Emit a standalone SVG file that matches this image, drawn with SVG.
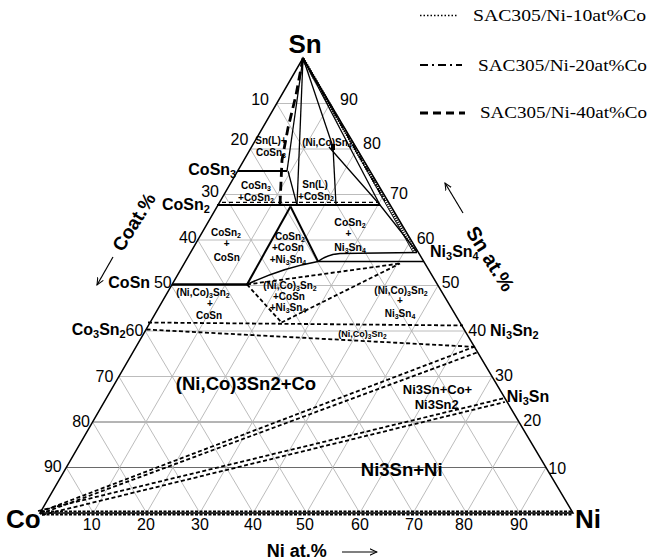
<svg xmlns="http://www.w3.org/2000/svg" width="649" height="560" viewBox="0 0 649 560">
<defs>
<marker id="arr" viewBox="0 0 10 10" refX="9" refY="5" markerWidth="8" markerHeight="8" orient="auto" markerUnits="userSpaceOnUse">
<path d="M0,1 L9,5 L0,9" fill="none" stroke="#000" stroke-width="1.3"/>
</marker>
<style>
.g{stroke:#b4b4b4;stroke-width:0.9;fill:none}
.gd{stroke:#6a6a6a;stroke-width:1}
.e{stroke:#000;stroke-width:1.5;fill:none}
.p{stroke:#000;stroke-width:1.3;fill:none}
.pt{stroke:#000;stroke-width:2.2;fill:none}
.t{stroke:#000;stroke-width:1.8;stroke-dasharray:4 2.5;fill:none}
text{font-family:"Liberation Sans",Arial,sans-serif;fill:#000}
.num{font-size:16px}
.cmp{font-size:16px;font-weight:bold}
.rg{font-size:10px;font-weight:bold;text-anchor:middle}
.big{font-size:18.5px;font-weight:bold;text-anchor:middle}
.lg{font-family:"Liberation Serif","Times New Roman",serif;font-size:16px}
</style>
</defs>
<rect width="649" height="560" fill="#fff"/>

<g id="grid">
<line class="g gd" x1="66.3" y1="467.5" x2="546" y2="467.5"/>
<line class="g gd" x1="92.6" y1="422" x2="519" y2="422"/>
<line class="g" x1="118.9" y1="376.5" x2="492" y2="376.5"/>
<line class="g" x1="145.2" y1="331" x2="465" y2="331"/>
<line class="g" x1="171.5" y1="285.5" x2="438" y2="285.5"/>
<line class="g" x1="197.8" y1="240" x2="411" y2="240"/>
<line class="g" x1="224.1" y1="194.5" x2="384" y2="194.5"/>
<line class="g" x1="250.4" y1="149" x2="357" y2="149"/>
<line class="g" x1="276.7" y1="103.5" x2="330" y2="103.5"/>
<line class="g" x1="93.3" y1="513" x2="330" y2="103.5"/>
<line class="g" x1="146.6" y1="513" x2="357" y2="149"/>
<line class="g" x1="199.9" y1="513" x2="384" y2="194.5"/>
<line class="g" x1="253.2" y1="513" x2="411" y2="240"/>
<line class="g" x1="306.5" y1="513" x2="438" y2="285.5"/>
<line class="g" x1="359.8" y1="513" x2="465" y2="331"/>
<line class="g" x1="413.1" y1="513" x2="492" y2="376.5"/>
<line class="g" x1="466.4" y1="513" x2="519" y2="422"/>
<line class="g" x1="519.7" y1="513" x2="546" y2="467.5"/>
<line class="g" x1="519.7" y1="513" x2="276.7" y2="103.5"/>
<line class="g" x1="466.4" y1="513" x2="250.4" y2="149"/>
<line class="g" x1="413.1" y1="513" x2="224.1" y2="194.5"/>
<line class="g" x1="359.8" y1="513" x2="197.8" y2="240"/>
<line class="g" x1="306.5" y1="513" x2="171.5" y2="285.5"/>
<line class="g" x1="253.2" y1="513" x2="145.2" y2="331"/>
<line class="g" x1="199.9" y1="513" x2="118.9" y2="376.5"/>
<line class="g" x1="146.6" y1="513" x2="92.6" y2="422"/>
<line class="g" x1="93.3" y1="513" x2="66.3" y2="467.5"/>
</g>

<g id="connectors">
<path class="e" d="M40,513 L303,58 L573,513 Z"/>
<line class="t" x1="42" y1="511.3" x2="572" y2="511.3" style="stroke-dasharray:3 1.5"/>
<line class="t" x1="42" y1="514.5" x2="572" y2="514.5" style="stroke-dasharray:3 1.5"/>
<line class="p" x1="303" y1="58" x2="413" y2="252" style="stroke-width:0.9"/>
<line x1="303" y1="59" x2="415.5" y2="252" stroke="#000" stroke-width="3.5" stroke-dasharray="1 1.3"/>
<line class="pt" x1="238" y1="171" x2="287" y2="171"/>
<line class="pt" x1="217" y1="205" x2="380" y2="205"/>
<line class="pt" x1="172" y1="284.5" x2="247" y2="284.5" style="stroke-width:2.6"/>
<line class="p" x1="303" y1="58" x2="287" y2="171"/>
<line class="p" x1="288" y1="171" x2="297" y2="205"/>
<line class="p" x1="303" y1="58" x2="297" y2="205"/>
<line class="p" x1="303" y1="58" x2="333" y2="147"/>
<line class="p" x1="333" y1="147" x2="336" y2="205"/>
<polyline class="p" points="329,147 380,205 417,252"/>
<line class="p" x1="303" y1="58" x2="380" y2="205"/>
<rect x="331" y="144" width="4" height="6" fill="#000"/>
<line class="pt" x1="247" y1="284.5" x2="290.5" y2="206.5" style="stroke-width:2"/>
<line class="pt" x1="290.5" y1="206.5" x2="318" y2="261.5" style="stroke-width:2"/>
<path class="p" d="M318,261.5 Q327,254.5 340,253.5 L417,252.5" style="stroke-width:1.5"/>
<line class="p" x1="318" y1="261.5" x2="424" y2="261.5" style="stroke-width:1.5"/>
<path class="p" d="M247,284.5 Q282,268 318,261.5" style="stroke-width:1.5"/>
<line class="t" x1="222" y1="202.3" x2="378" y2="202.3" style="stroke-width:1.2;stroke-dasharray:4 3"/>
<line x1="303" y1="58" x2="385" y2="201" stroke="#000" stroke-width="1.5" stroke-dasharray="6 2.5 1.5 2.5"/>
<polyline points="303,58 296,95 288,128 282,160 280,205" fill="none" stroke="#000" stroke-width="2.8" stroke-dasharray="9 5"/>
<line class="t" x1="247" y1="284.5" x2="400" y2="263.5"/>
<line class="t" x1="247" y1="284.5" x2="281.5" y2="322.5"/>
<line class="t" x1="281.5" y1="322.5" x2="400" y2="263.5"/>
<line class="t" x1="148" y1="322.5" x2="463" y2="325.5"/>
<line class="t" x1="146.5" y1="329.5" x2="477" y2="347"/>
<line class="t" x1="40" y1="512" x2="475" y2="346.5"/>
<line class="t" x1="40" y1="514" x2="477" y2="352.5"/>
<line class="t" x1="38" y1="511" x2="505" y2="398"/>
<line class="t" x1="42" y1="515" x2="505" y2="402"/>
<line x1="342" y1="552" x2="377" y2="552" stroke="#000" stroke-width="1.2" marker-end="url(#arr)"/>
<line x1="113" y1="257" x2="97" y2="285" stroke="#000" stroke-width="1.2" marker-end="url(#arr)"/>
<line x1="463" y1="213" x2="445" y2="183" stroke="#000" stroke-width="1.2" marker-end="url(#arr)"/>
</g>

<g id="vertices">
<text x="305" y="53" text-anchor="middle" style="font-size:26px;font-weight:bold">Sn</text>
<text x="6" y="528" style="font-size:26px;font-weight:bold">Co</text>
<text x="575" y="528" style="font-size:26px;font-weight:bold">Ni</text>
</g>

<g id="left-scale">
<text class="num" x="269" y="105" text-anchor="end">10</text>
<text class="num" x="248.3" y="145" text-anchor="end">20</text>
<text class="num" x="219" y="196.5" text-anchor="end">30</text>
<text class="num" x="196.7" y="243" text-anchor="end">40</text>
<text class="num" x="171.7" y="288" text-anchor="end">50</text>
<text class="num" x="143.3" y="336" text-anchor="end">60</text>
<text class="num" x="113.3" y="382" text-anchor="end">70</text>
<text class="num" x="90" y="427" text-anchor="end">80</text>
<text class="num" x="61.7" y="472" text-anchor="end">90</text>
</g>
<g id="right-scale">
<text class="num" x="340" y="105">90</text>
<text class="num" x="363" y="149">80</text>
<text class="num" x="390" y="199">70</text>
<text class="num" x="416.7" y="244">60</text>
<text class="num" x="441.7" y="288">50</text>
<text class="num" x="468.3" y="336">40</text>
<text class="num" x="495" y="381">30</text>
<text class="num" x="523.3" y="426">20</text>
<text class="num" x="548.3" y="474">10</text>
</g>
<g id="bottom-scale">
<text class="num" x="91.7" y="530" text-anchor="middle">10</text>
<text class="num" x="146" y="530" text-anchor="middle">20</text>
<text class="num" x="200" y="530" text-anchor="middle">30</text>
<text class="num" x="253" y="530" text-anchor="middle">40</text>
<text class="num" x="305" y="530" text-anchor="middle">50</text>
<text class="num" x="360" y="530" text-anchor="middle">60</text>
<text class="num" x="414" y="530" text-anchor="middle">70</text>
<text class="num" x="464" y="530" text-anchor="middle">80</text>
<text class="num" x="519" y="530" text-anchor="middle">90</text>
</g>

<g id="axis-titles">
<text x="266.7" y="557" style="font-size:18px;font-weight:bold">Ni at.%</text>
<text transform="translate(134,222) rotate(-58)" x="0" y="6.5" text-anchor="middle" style="font-size:19px;font-weight:bold">Coat.%</text>
<text transform="translate(490,259) rotate(58)" x="0" y="6.5" text-anchor="middle" style="font-size:20px;font-weight:bold">Sn at.%</text>
</g>

<g id="compounds">
<text class="cmp" x="188.3" y="175">CoSn<tspan font-size="11" dy="3">3</tspan></text>
<text class="cmp" x="162" y="210">CoSn<tspan font-size="11" dy="2.5">2</tspan></text>
<text class="cmp" x="108.3" y="288">CoSn</text>
<text class="cmp" x="71.7" y="335">Co<tspan font-size="11" dy="3">3</tspan><tspan dy="-3">Sn</tspan><tspan font-size="11" dy="3">2</tspan></text>
<text class="cmp" x="430" y="257">Ni<tspan font-size="11" dy="3">3</tspan><tspan dy="-3">Sn</tspan><tspan font-size="11" dy="3">4</tspan></text>
<text class="cmp" x="490" y="336">Ni<tspan font-size="11" dy="3">3</tspan><tspan dy="-3">Sn</tspan><tspan font-size="11" dy="3">2</tspan></text>
<text class="cmp" x="506.7" y="402">Ni<tspan font-size="11" dy="3">3</tspan><tspan dy="-3">Sn</tspan></text>
</g>

<g id="regions">
<g id="r-snl-cosn3"><text class="rg" x="271" y="144">Sn(L)+</text><text class="rg" x="271" y="156">CoSn<tspan font-size="7" dy="2">3</tspan></text></g>
<g id="r-nicosn4"><text class="rg" x="327" y="146">(Ni,Co)Sn<tspan font-size="7" dy="2">4</tspan></text></g>
<g id="r-cosn3-cosn2"><text class="rg" x="256" y="189">CoSn<tspan font-size="7" dy="1.5">3</tspan></text><text class="rg" x="256" y="201">+CoSn<tspan font-size="7" dy="1.5">2</tspan></text></g>
<g id="r-snl-cosn2"><text class="rg" x="315" y="188">Sn(L)</text><text class="rg" x="316" y="199.5">+CoSn<tspan font-size="7" dy="1.5">2</tspan></text></g>
<g id="r-cosn2-cosn"><text class="rg" x="226" y="236">CoSn<tspan font-size="7" dy="2">2</tspan></text><text class="rg" x="226.7" y="247">+</text><text class="rg" x="226.7" y="261">CoSn</text></g>
<g id="r-cosn2-cosn-ni3sn4"><text class="rg" x="290" y="240">CoSn<tspan font-size="7" dy="2">2</tspan></text><text class="rg" x="288" y="251">+CoSn</text><text class="rg" x="288" y="263">+Ni<tspan font-size="7" dy="2">3</tspan><tspan dy="-2">Sn</tspan><tspan font-size="7" dy="2">4</tspan></text></g>
<g id="r-cosn2-ni3sn4"><text class="rg" x="350" y="226" style="font-size:10.5px">CoSn<tspan font-size="7" dy="2">2</tspan></text><text class="rg" x="348.3" y="237">+</text><text class="rg" x="350" y="251" style="font-size:10.5px">Ni<tspan font-size="7" dy="2">3</tspan><tspan dy="-2">Sn</tspan><tspan font-size="7" dy="2">4</tspan></text></g>
<g id="r-nico3sn2-cosn"><text class="rg" x="203" y="296">(Ni,Co)<tspan font-size="7" dy="2">3</tspan><tspan dy="-2">Sn</tspan><tspan font-size="7" dy="2">2</tspan></text><text class="rg" x="210" y="307">+</text><text class="rg" x="209" y="319">CoSn</text></g>
<g id="r-nico3sn2-cosn-ni3sn4"><text class="rg" x="290" y="289">(Ni,Co)<tspan font-size="7" dy="2">3</tspan><tspan dy="-2">Sn</tspan><tspan font-size="7" dy="2">2</tspan></text><text class="rg" x="289" y="300">+CoSn</text><text class="rg" x="288" y="311">+Ni<tspan font-size="7" dy="2">3</tspan><tspan dy="-2">Sn</tspan><tspan font-size="7" dy="2">4</tspan></text></g>
<g id="r-nico3sn2-ni3sn4"><text class="rg" x="401" y="294">(Ni,Co)<tspan font-size="7" dy="2">3</tspan><tspan dy="-2">Sn</tspan><tspan font-size="7" dy="2">2</tspan></text><text class="rg" x="400" y="304">+</text><text class="rg" x="400" y="317">Ni<tspan font-size="7" dy="2">3</tspan><tspan dy="-2">Sn</tspan><tspan font-size="7" dy="2">4</tspan></text></g>
<g id="r-nico3sn2"><text class="rg" x="362.5" y="337" style="font-size:9px">(Ni,Co)<tspan font-size="6.5" dy="2">3</tspan><tspan dy="-2">Sn</tspan><tspan font-size="6.5" dy="2">2</tspan></text></g>
<g id="r-nico3sn2-co"><text class="big" x="246" y="390">(Ni,Co)3Sn2+Co</text></g>
<g id="r-ni3sn-co-ni3sn2"><text class="rg" x="437.5" y="394" style="font-size:13px">Ni3Sn+Co+</text><text class="rg" x="436.7" y="409" style="font-size:13px">Ni3Sn2</text></g>
<g id="r-ni3sn-ni"><text class="big" x="401.7" y="476">Ni3Sn+Ni</text></g>
</g>

<g id="legend">
<line x1="420" y1="15.5" x2="458" y2="15.5" stroke="#000" stroke-width="1.5" stroke-dasharray="1.5 2"/>
<text class="lg" x="473" y="20.5" textLength="173" lengthAdjust="spacingAndGlyphs">SAC305/Ni-10at%Co</text>
<line x1="420" y1="65" x2="462" y2="65" stroke="#000" stroke-width="2.2" stroke-dasharray="8 4 2 4"/>
<text class="lg" x="478" y="70.5" textLength="169" lengthAdjust="spacingAndGlyphs">SAC305/Ni-20at%Co</text>
<line x1="420" y1="113" x2="465" y2="113" stroke="#000" stroke-width="3" stroke-dasharray="8 5"/>
<text class="lg" x="480" y="118" textLength="167" lengthAdjust="spacingAndGlyphs">SAC305/Ni-40at%Co</text>
</g>
</svg>
